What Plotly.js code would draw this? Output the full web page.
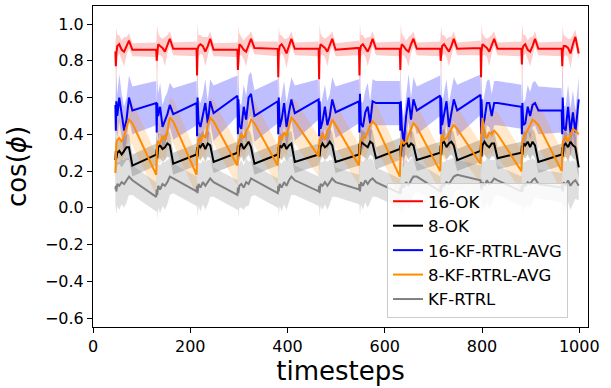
<!DOCTYPE html>
<html>
<head>
<meta charset="utf-8">
<script src="https://cdn.plot.ly/plotly-3.0.1.min.js"></script>
<style>html,body{margin:0;padding:0;background:#fff;}#chart{width:611px;height:388px;}</style>
</head>
<body>
<div id="chart"></div>
<script>
// timesteps (shared by all series)
const timesteps = [
  46,47,48,50,54,59,64,69,74,81,
  130,131,132,134,138,143,148,153,158,165,
  213,214,215,217,221,226,231,236,241,248,
  297,298,299,301,305,310,315,320,325,332,
  380,381,382,384,388,393,398,403,408,415,
  464,465,466,468,472,477,482,487,492,499,
  547,548,549,551,555,560,565,570,575,582,
  631,632,633,635,639,644,649,654,659,666,
  714,715,716,718,722,727,732,737,742,749,
  797,798,799,801,805,810,815,820,825,832,
  881,882,883,885,889,894,899,904,909,916,
  964,965,966,968,972,977,982,987,992,999
];

const seriesNames = ["16-OK", "8-OK", "16-KF-RTRL-AVG", "8-KF-RTRL-AVG", "KF-RTRL"];

// 16-OK mean cos(phi) and spread
const ok16 = [
  0.85,0.77,0.84,0.88,0.89,0.86,0.85,0.88,0.91,0.86,
  0.86,0.80,0.85,0.89,0.88,0.87,0.85,0.89,0.92,0.865,
  0.865,0.72,0.86,0.88,0.89,0.88,0.85,0.88,0.92,0.86,
  0.86,0.75,0.84,0.89,0.88,0.86,0.85,0.89,0.92,0.87,
  0.865,0.71,0.85,0.88,0.89,0.87,0.84,0.88,0.92,0.865,
  0.865,0.70,0.86,0.89,0.88,0.87,0.85,0.89,0.92,0.86,
  0.87,0.72,0.85,0.88,0.89,0.87,0.85,0.88,0.92,0.865,
  0.865,0.75,0.86,0.89,0.88,0.86,0.85,0.89,0.92,0.865,
  0.865,0.80,0.85,0.88,0.89,0.87,0.85,0.88,0.92,0.865,
  0.87,0.71,0.85,0.89,0.88,0.87,0.85,0.89,0.92,0.865,
  0.865,0.78,0.86,0.88,0.89,0.86,0.85,0.88,0.92,0.865,
  0.865,0.77,0.85,0.88,0.88,0.87,0.84,0.89,0.93,0.84
];
const ok16Sd = [
  0.04,0.15,0.14,0.06,0.05,0.05,0.08,0.05,0.04,0.035,
  0.04,0.16,0.14,0.06,0.05,0.05,0.08,0.05,0.04,0.035,
  0.04,0.17,0.14,0.06,0.05,0.05,0.08,0.05,0.04,0.035,
  0.04,0.16,0.15,0.06,0.05,0.05,0.08,0.05,0.04,0.035,
  0.04,0.17,0.14,0.06,0.05,0.05,0.08,0.05,0.04,0.035,
  0.04,0.17,0.14,0.06,0.05,0.05,0.08,0.05,0.04,0.035,
  0.04,0.17,0.15,0.06,0.05,0.05,0.08,0.05,0.04,0.035,
  0.04,0.16,0.14,0.06,0.05,0.05,0.08,0.05,0.04,0.035,
  0.04,0.15,0.14,0.06,0.05,0.05,0.08,0.05,0.04,0.035,
  0.04,0.17,0.15,0.06,0.05,0.05,0.08,0.05,0.04,0.035,
  0.04,0.16,0.14,0.06,0.05,0.05,0.08,0.05,0.04,0.035,
  0.04,0.16,0.14,0.06,0.05,0.05,0.08,0.05,0.04,0.035
];

// 8-OK
const ok8 = [
  0.26,0.31,0.27,0.30,0.31,0.29,0.31,0.33,0.33,0.23,
  0.29,0.32,0.27,0.33,0.34,0.32,0.33,0.35,0.34,0.24,
  0.29,0.33,0.28,0.34,0.33,0.35,0.32,0.35,0.34,0.25,
  0.30,0.34,0.28,0.33,0.35,0.32,0.34,0.36,0.33,0.24,
  0.29,0.33,0.27,0.34,0.33,0.35,0.32,0.34,0.35,0.25,
  0.29,0.34,0.28,0.33,0.35,0.33,0.34,0.36,0.34,0.25,
  0.29,0.35,0.29,0.36,0.35,0.34,0.33,0.36,0.35,0.27,
  0.32,0.34,0.28,0.35,0.34,0.36,0.33,0.35,0.34,0.26,
  0.30,0.34,0.29,0.35,0.36,0.33,0.35,0.36,0.34,0.26,
  0.31,0.35,0.28,0.34,0.36,0.34,0.33,0.35,0.35,0.27,
  0.30,0.34,0.29,0.35,0.34,0.36,0.33,0.36,0.34,0.25,
  0.29,0.33,0.28,0.34,0.35,0.33,0.36,0.34,0.33,0.22
];
const ok8Sd = [
  0.06,0.08,0.08,0.07,0.07,0.07,0.07,0.07,0.07,0.06,
  0.06,0.08,0.08,0.07,0.07,0.07,0.07,0.07,0.07,0.06,
  0.06,0.08,0.08,0.07,0.07,0.07,0.07,0.07,0.07,0.06,
  0.06,0.08,0.08,0.07,0.07,0.07,0.07,0.07,0.07,0.06,
  0.06,0.08,0.08,0.07,0.07,0.07,0.07,0.07,0.07,0.06,
  0.06,0.08,0.08,0.07,0.07,0.07,0.07,0.07,0.07,0.06,
  0.06,0.08,0.08,0.07,0.07,0.07,0.07,0.07,0.07,0.06,
  0.06,0.08,0.08,0.07,0.07,0.07,0.07,0.07,0.07,0.06,
  0.06,0.08,0.08,0.07,0.07,0.07,0.07,0.07,0.07,0.06,
  0.06,0.08,0.08,0.07,0.07,0.07,0.07,0.07,0.07,0.06,
  0.06,0.08,0.08,0.07,0.07,0.07,0.07,0.07,0.07,0.06,
  0.06,0.08,0.08,0.07,0.07,0.07,0.07,0.07,0.07,0.06
];

// 16-KF-RTRL-AVG
const kfAvg16 = [
  0.56,0.42,0.58,0.50,0.60,0.50,0.42,0.48,0.60,0.53,
  0.57,0.41,0.57,0.50,0.55,0.44,0.47,0.51,0.56,0.51,
  0.57,0.39,0.60,0.47,0.44,0.50,0.57,0.46,0.58,0.515,
  0.61,0.40,0.59,0.45,0.43,0.55,0.48,0.60,0.62,0.50,
  0.58,0.40,0.60,0.44,0.48,0.57,0.44,0.52,0.59,0.515,
  0.59,0.39,0.58,0.43,0.47,0.55,0.45,0.50,0.59,0.52,
  0.58,0.41,0.62,0.46,0.44,0.52,0.55,0.46,0.58,0.57,
  0.57,0.42,0.58,0.44,0.35,0.50,0.60,0.48,0.59,0.53,
  0.61,0.40,0.60,0.45,0.50,0.58,0.44,0.52,0.59,0.53,
  0.615,0.40,0.59,0.44,0.48,0.57,0.57,0.50,0.57,0.57,
  0.55,0.40,0.57,0.45,0.46,0.55,0.50,0.56,0.57,0.53,
  0.53,0.40,0.60,0.44,0.42,0.55,0.41,0.52,0.41,0.59
];
const kfAvg16Sd = [
  0.12,0.16,0.15,0.12,0.13,0.12,0.13,0.12,0.12,0.13,
  0.12,0.16,0.15,0.12,0.13,0.12,0.13,0.12,0.12,0.14,
  0.12,0.17,0.15,0.12,0.13,0.12,0.13,0.12,0.12,0.15,
  0.11,0.16,0.15,0.12,0.13,0.12,0.13,0.12,0.12,0.14,
  0.12,0.16,0.15,0.12,0.13,0.12,0.13,0.12,0.12,0.15,
  0.11,0.17,0.15,0.12,0.13,0.12,0.13,0.12,0.12,0.14,
  0.12,0.16,0.15,0.12,0.13,0.12,0.13,0.12,0.12,0.12,
  0.12,0.16,0.15,0.12,0.14,0.12,0.13,0.12,0.12,0.13,
  0.11,0.16,0.15,0.12,0.13,0.12,0.13,0.12,0.12,0.14,
  0.11,0.17,0.15,0.12,0.13,0.12,0.13,0.12,0.12,0.12,
  0.12,0.16,0.15,0.12,0.13,0.12,0.13,0.12,0.12,0.13,
  0.12,0.16,0.15,0.12,0.13,0.12,0.13,0.12,0.12,0.12
];

// 8-KF-RTRL-AVG
const kfAvg8 = [
  0.19,0.30,0.35,0.37,0.38,0.36,0.39,0.44,0.48,0.46,
  0.18,0.28,0.34,0.36,0.35,0.39,0.37,0.42,0.49,0.47,
  0.18,0.30,0.33,0.38,0.36,0.40,0.38,0.45,0.49,0.47,
  0.23,0.31,0.36,0.37,0.40,0.38,0.42,0.44,0.48,0.46,
  0.23,0.33,0.36,0.39,0.37,0.41,0.39,0.45,0.49,0.47,
  0.28,0.34,0.37,0.38,0.40,0.37,0.42,0.44,0.48,0.45,
  0.23,0.30,0.35,0.37,0.39,0.38,0.42,0.45,0.47,0.45,
  0.17,0.28,0.33,0.37,0.35,0.36,0.40,0.43,0.46,0.44,
  0.20,0.32,0.37,0.40,0.37,0.38,0.40,0.43,0.45,0.43,
  0.24,0.38,0.44,0.49,0.40,0.38,0.41,0.40,0.42,0.40,
  0.20,0.31,0.36,0.38,0.40,0.42,0.45,0.48,0.47,0.45,
  0.20,0.30,0.35,0.37,0.39,0.36,0.40,0.43,0.42,0.40
];
const kfAvg8Sd = [
  0.11,0.12,0.12,0.11,0.11,0.11,0.11,0.11,0.11,0.12,
  0.11,0.12,0.12,0.11,0.11,0.11,0.11,0.11,0.11,0.12,
  0.11,0.12,0.12,0.11,0.11,0.11,0.11,0.11,0.11,0.12,
  0.11,0.12,0.12,0.11,0.11,0.11,0.11,0.11,0.11,0.12,
  0.11,0.12,0.12,0.11,0.11,0.11,0.11,0.11,0.11,0.12,
  0.11,0.12,0.12,0.11,0.11,0.11,0.11,0.11,0.11,0.12,
  0.11,0.12,0.12,0.11,0.11,0.11,0.11,0.11,0.11,0.12,
  0.11,0.12,0.12,0.11,0.11,0.11,0.11,0.11,0.11,0.12,
  0.11,0.12,0.12,0.11,0.11,0.11,0.11,0.11,0.11,0.12,
  0.11,0.12,0.12,0.11,0.11,0.11,0.11,0.11,0.11,0.12,
  0.11,0.12,0.12,0.11,0.11,0.11,0.11,0.11,0.11,0.12,
  0.11,0.12,0.12,0.11,0.11,0.11,0.11,0.11,0.11,0.12
];

// KF-RTRL
const kfRtrl = [
  0.10,0.12,0.09,0.13,0.12,0.14,0.13,0.15,0.17,0.15,
  0.06,0.10,0.07,0.12,0.10,0.13,0.12,0.14,0.17,0.16,
  0.09,0.12,0.08,0.13,0.11,0.14,0.12,0.14,0.16,0.14,
  0.07,0.11,0.08,0.12,0.13,0.11,0.14,0.13,0.16,0.15,
  0.08,0.12,0.09,0.13,0.11,0.14,0.12,0.15,0.17,0.15,
  0.09,0.12,0.08,0.13,0.12,0.14,0.12,0.14,0.16,0.14,
  0.10,0.13,0.09,0.14,0.12,0.15,0.13,0.15,0.16,0.14,
  0.08,0.11,0.08,0.13,0.11,0.14,0.12,0.15,0.17,0.17,
  0.09,0.12,0.09,0.13,0.12,0.14,0.13,0.15,0.17,0.18,
  0.15,0.12,0.10,0.14,0.12,0.15,0.13,0.14,0.16,0.15,
  0.09,0.12,0.09,0.13,0.12,0.14,0.13,0.15,0.16,0.13,
  0.11,0.13,0.09,0.14,0.12,0.15,0.12,0.14,0.15,0.12
];
const kfRtrlSd = [
  0.08,0.12,0.13,0.12,0.13,0.12,0.13,0.12,0.10,0.08,
  0.08,0.12,0.13,0.12,0.13,0.12,0.13,0.12,0.10,0.08,
  0.08,0.12,0.13,0.12,0.13,0.12,0.13,0.12,0.10,0.08,
  0.08,0.12,0.13,0.12,0.13,0.12,0.13,0.12,0.10,0.08,
  0.08,0.12,0.13,0.12,0.13,0.12,0.13,0.12,0.10,0.08,
  0.08,0.12,0.13,0.12,0.13,0.12,0.13,0.12,0.10,0.08,
  0.08,0.12,0.13,0.12,0.13,0.12,0.13,0.12,0.10,0.08,
  0.08,0.12,0.13,0.12,0.13,0.12,0.13,0.12,0.10,0.08,
  0.08,0.12,0.13,0.12,0.13,0.12,0.13,0.12,0.10,0.08,
  0.08,0.12,0.13,0.12,0.13,0.12,0.13,0.12,0.10,0.08,
  0.08,0.12,0.13,0.12,0.13,0.12,0.13,0.12,0.10,0.08,
  0.08,0.12,0.13,0.12,0.13,0.12,0.13,0.12,0.10,0.08
];

const xTicks = [0, 200, 400, 600, 800, 1000];
const yTicks = [-0.6, -0.4, -0.2, 0.0, 0.2, 0.4, 0.6, 0.8, 1.0];

const means = [ok16, ok8, kfAvg16, kfAvg8, kfRtrl];
const sds = [ok16Sd, ok8Sd, kfAvg16Sd, kfAvg8Sd, kfRtrlSd];
const lineColors = ["#ff0000", "#000000", "#0000ff", "#ff8c00", "#808080"];
const bandColors = ["rgba(255,0,0,0.2)", "rgba(0,0,0,0.2)", "rgba(0,0,255,0.25)", "rgba(255,140,0,0.2)", "rgba(128,128,128,0.25)"];

const traces = [];
means.forEach((m, i) => {
  const hi = m.map((v, j) => v + sds[i][j]);
  const lo = m.map((v, j) => v - sds[i][j]);
  traces.push({
    x: timesteps.concat(timesteps.slice().reverse()),
    y: hi.concat(lo.slice().reverse()),
    type: "scatter", mode: "lines", fill: "toself",
    fillcolor: bandColors[i], line: {width: 0, color: "rgba(0,0,0,0)"},
    hoverinfo: "skip", showlegend: false
  });
});
means.forEach((m, i) => {
  traces.push({
    x: timesteps, y: m, type: "scatter", mode: "lines",
    name: seriesNames[i], line: {color: lineColors[i], width: 2}
  });
});

const layout = {
  width: 611, height: 388,
  margin: {l: 93, r: 23, t: 6, b: 61},
  paper_bgcolor: "#ffffff", plot_bgcolor: "#ffffff",
  font: {family: "DejaVu Sans", color: "#000000", size: 16},
  showlegend: true,
  legend: {
    x: 0.594, y: 0.028, xanchor: "left", yanchor: "bottom",
    bgcolor: "rgba(255,255,255,0.8)", bordercolor: "#cccccc", borderwidth: 1,
    font: {family: "DejaVu Sans", size: 16.5, color: "#000000"}
  },
  xaxis: {
    range: [0, 1018], tickvals: xTicks, ticktext: xTicks.map(String),
    showgrid: false, zeroline: false, showline: true, mirror: true,
    linecolor: "#000000", linewidth: 1, ticks: "outside", ticklen: 5, tickcolor: "#000000",
    tickfont: {size: 16},
    title: {text: "timesteps", font: {size: 26}, standoff: 6}
  },
  yaxis: {
    range: [-0.648, 1.098], tickvals: yTicks, tickformat: ".1f",
    showgrid: false, zeroline: false, showline: true, mirror: true,
    linecolor: "#000000", linewidth: 1, ticks: "outside", ticklen: 5, tickcolor: "#000000",
    tickfont: {size: 16},
    title: {text: "cos(<i>\u03d5</i>)", font: {size: 26}, standoff: 10}
  }
};

Plotly.newPlot("chart", traces, layout, {displayModeBar: false, staticPlot: true});
</script>
</body>
</html>
